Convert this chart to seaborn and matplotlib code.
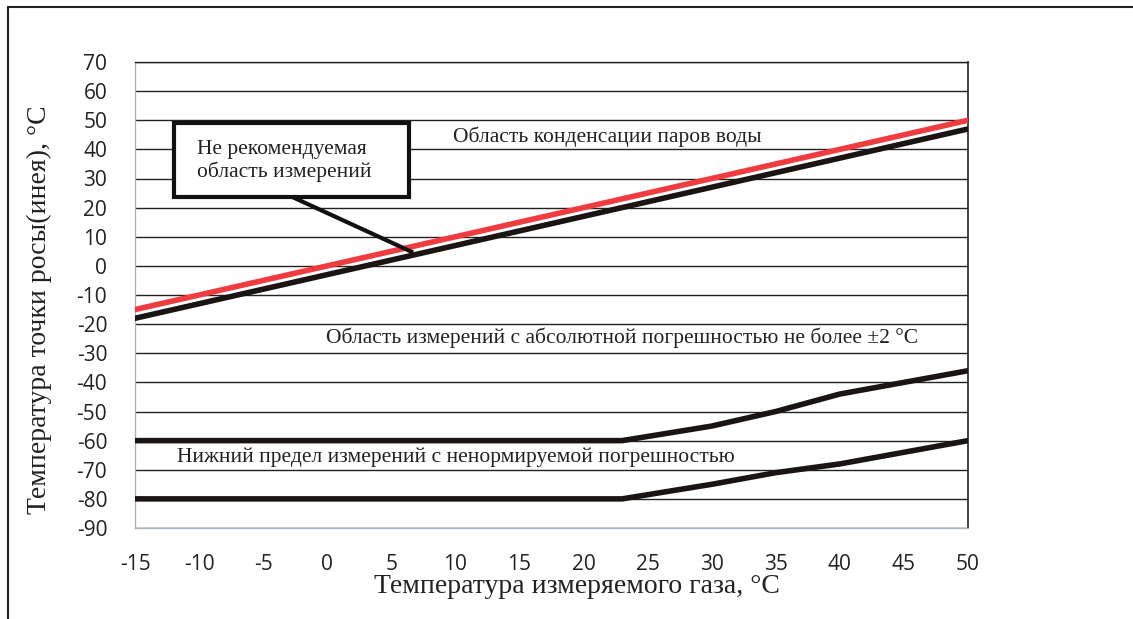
import numpy as np
import pandas as pd
import matplotlib
matplotlib.use("Agg")
import matplotlib.pyplot as plt
import seaborn as sns
from matplotlib.patches import Rectangle
from matplotlib.lines import Line2D

# ---- data ----
x_ticks = [-15, -10, -5, 0, 5, 10, 15, 20, 25, 30, 35, 40, 45, 50]
y_ticks = [70, 60, 50, 40, 30, 20, 10, 0, -10, -20, -30, -40, -50, -60, -70, -80, -90]

cond_x = [-15, 50]
cond_y = [-15, 50]                      # red: condensation boundary

dew_x = [-15, 0, 10, 20, 30, 40, 50]
dew_y = [-18, -3, 7, 17, 27, 37, 47]    # black line under red

upper_x = [-15, 23, 30, 35, 40, 50]
upper_y = [-60, -60, -55, -50, -44, -36]

lower_x = [-15, 23, 30, 35, 40, 50]
lower_y = [-80, -80, -75, -71, -68, -60]

label_box = "Не рекомендуемая\nобласть измерений"
label_cond = "Область конденсации паров воды"
label_abs = "Область измерений с абсолютной погрешностью не более ±2 °C"
label_low = "Нижний предел измерений с ненормируемой погрешностью"
xlabel = "Температура измеряемого газа, °C"
ylabel = "Температура точки росы(инея), °C"

# ---- styling ----
sns.set_style("white")
plt.rcParams['font.family'] = ['Open Sans', 'DejaVu Sans']
serif = ['Liberation Serif', 'DejaVu Serif']

fig = plt.figure(figsize=(11.33, 6.19), dpi=100)
ax = fig.add_axes([135/1133, 1-528/619, (968-135)/1133, (528-62)/619])

frames = []
for name, xs, ys in [("dew", dew_x, dew_y), ("upper", upper_x, upper_y),
                     ("lower", lower_x, lower_y), ("cond", cond_x, cond_y)]:
    frames.append(pd.DataFrame({"x": xs, "y": ys, "series": name}))
df = pd.concat(frames, ignore_index=True)

# horizontal gridlines
for yv in y_ticks:
    ax.axhline(yv, color="#222222", lw=1.0, zorder=1)

palette = {"dew": "#1a1512", "upper": "#1a1512", "lower": "#1a1512", "cond": "#f23b3e"}
sns.lineplot(data=df, x="x", y="y", hue="series", palette=palette, sort=False,
             estimator=None, units="series", lw=4.0, legend=False, ax=ax, zorder=3)

ax.set_xlim(-15, 50)
ax.set_ylim(-90, 70)
ax.set_xticks(x_ticks)
ax.set_yticks(y_ticks)
ax.set_xticklabels([str(v) for v in x_ticks], fontsize=15, color="#222222")
ax.set_yticklabels([str(v) for v in y_ticks], fontsize=15, color="#222222")
ax.tick_params(axis="y", direction="out", length=8, width=1.0, color="#222222", pad=12)
ax.tick_params(axis="x", direction="out", length=5, width=1.0, color="#aaaaaa", pad=14)

for s in ["left", "bottom"]:
    ax.spines[s].set_color("#aab4c0")
    ax.spines[s].set_linewidth(1.0)
ax.spines["right"].set_color("#222222")
ax.spines["right"].set_linewidth(1.2)
ax.spines["top"].set_color("#222222")
ax.spines["top"].set_linewidth(1.0)

ax.set_xlabel(xlabel, fontsize=20, family=serif, color="#222222")
ax.set_ylabel(ylabel, fontsize=20, family=serif, color="#222222")
ax.xaxis.set_label_coords(0.531, -0.098)
ax.yaxis.set_label_coords(-0.100, 0.468)

# annotation texts
fs = 15.5
ax.text(9.8, 44.2, label_cond, fontsize=fs, family=serif, va="center", ha="left", color="#222222", zorder=4)
ax.text(-0.1, -24.8, label_abs, fontsize=fs, family=serif, va="center", ha="left", color="#222222", zorder=4)
ax.text(-11.7, -65.6, label_low, fontsize=fs, family=serif, va="center", ha="left", color="#222222", zorder=4)

# callout box with pointer
ax.plot([-2.7, 6.7], [23.6, 4.6], color="#111111", lw=3.0, zorder=5, solid_capstyle="butt")
ax.add_patch(Rectangle((-11.95, 23.6), 18.35, 25.4, facecolor="white", edgecolor="#111111",
                       lw=3.0, zorder=6))
ax.text(-10.2, 36.0, label_box, fontsize=fs, family=serif, va="center", ha="left",
        color="#222222", zorder=7, linespacing=1.15)

# outer frame (left and top edges)
fig.add_artist(Line2D([8/1133, 8/1133], [0, 1-7/619], color="#222222", lw=1.5))
fig.add_artist(Line2D([8/1133, 1], [1-7/619, 1-7/619], color="#222222", lw=1.5))

fig.savefig("out.png", dpi=100)
